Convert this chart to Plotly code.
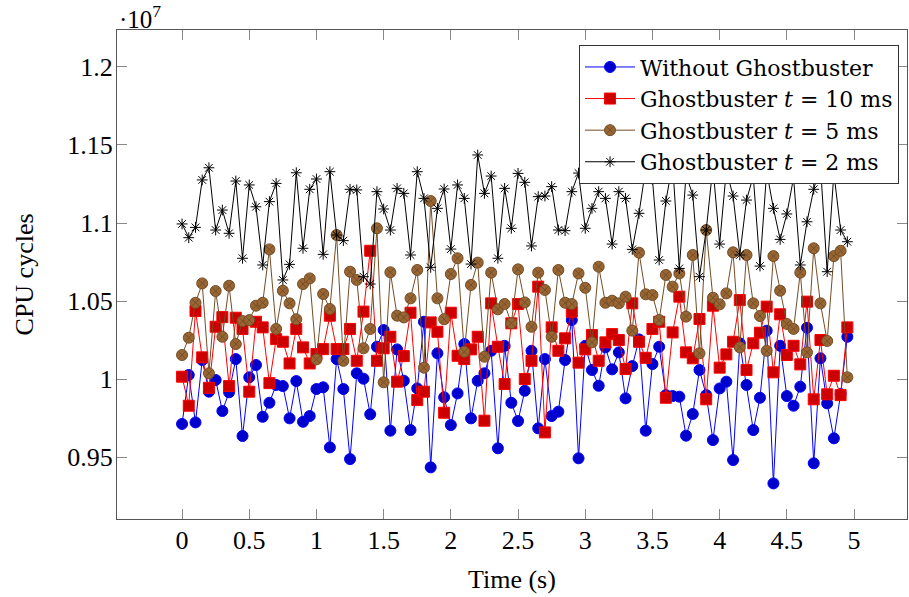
import plotly.graph_objects as go

# time axis (s), one sample every 0.05 s
time_s = [round(i * 0.05, 2) for i in range(100)]

# CPU cycles, in units of 10^7
without_gb = [
    0.9712, 1.0026, 0.9722, 1.0122, 0.9919, 0.9994, 0.9795, 0.9915, 1.0128, 0.9635,
    1.0011, 1.0090, 0.9758, 0.9848, 0.9962, 0.9955, 0.9748, 0.9987, 0.9726, 0.9763,
    0.9936, 0.9947, 0.9562, 1.0128, 0.9936, 0.9487, 1.0037, 1.0002, 0.9774, 1.0207,
    1.0314, 0.9669, 1.0190, 0.9989, 0.9673, 0.9940, 1.0367, 0.9434, 1.0165, 0.9883,
    0.9705, 0.9908, 1.0224, 0.9748, 0.9989, 1.0037, 1.0181, 0.9556, 1.0213, 0.9848,
    0.9731, 0.9925, 1.0181, 0.9684, 1.0128, 0.9763, 0.9791, 1.0122, 1.0378, 0.9492,
    1.0213, 1.0058, 0.9957, 1.0203, 1.0062, 1.0171, 0.9876, 1.0083, 1.0254, 0.9669,
    1.0096, 1.0207, 0.9897, 0.9891, 0.9887, 0.9637, 0.9776, 1.0058, 0.9897, 0.9609,
    0.9940, 0.9983, 0.9481, 1.0229, 0.9962, 0.9673, 0.9880, 1.0310, 0.9331, 1.0213,
    0.9891, 0.9829, 0.9951, 1.0329, 0.9460, 1.0133, 0.9844, 0.9620, 0.9904, 1.0271,
]

gb_10ms = [
    1.0015, 0.9829, 1.0436, 1.0139, 0.9944, 1.0335, 1.0397, 0.9955, 1.0393, 1.0321,
    0.9919, 1.0367, 1.0331, 0.9974, 1.0256, 1.0239, 1.0100, 1.0321, 1.0203, 1.0100,
    1.0160, 1.0192, 1.0406, 1.0192, 1.0192, 1.0321, 1.0117, 1.0432, 1.0822, 1.0117,
    1.0197, 1.0271, 0.9983, 1.0147, 1.0425, 0.9865, 0.9919, 1.0363, 1.0303, 0.9784,
    1.0425, 1.0149, 1.0128, 1.0190, 1.0271, 0.9733, 1.0485, 1.0207, 0.9968, 1.0357,
    1.0481, 1.0000, 1.0117, 1.0592, 0.9658, 1.0331, 1.0181, 1.0261, 1.0432, 1.0105,
    1.0190, 1.0282, 1.0117, 1.0235, 1.0288, 1.0250, 1.0064, 1.0485, 1.0239, 1.0136,
    1.0321, 1.0367, 0.9880, 1.0299, 1.0528, 1.0171, 1.0133, 1.0385, 0.9870, 1.0470,
    1.0073, 1.0158, 1.0239, 1.0506, 1.0058, 1.0229, 1.0297, 1.0464, 1.0043, 1.0415,
    1.0154, 1.0213, 1.0094, 1.0496, 0.9870, 1.0250, 0.9902, 1.0021, 0.9897, 1.0331,
]

gb_5ms = [
    1.0154, 1.0265, 1.0489, 1.0613, 1.0037, 1.0564, 1.0271, 1.0598, 1.0224, 1.0372,
    1.0378, 1.0470, 1.0489, 1.0831, 1.0321, 1.0566, 1.0485, 1.0383, 1.0609, 1.0645,
    1.0126, 1.0545, 1.0449, 1.0923, 1.0117, 1.0688, 1.0635, 1.0197, 1.0321, 1.0966,
    0.9979, 1.0684, 1.0406, 1.0395, 1.0517, 1.0699, 1.0073, 1.1141, 1.0517, 1.0383,
    1.0673, 1.0774, 1.0175, 1.0603, 1.0746, 1.0143, 1.0682, 1.0447, 1.0481, 1.0357,
    1.0703, 1.0491, 1.0335, 1.0682, 1.0571, 1.0271, 1.0699, 1.0489, 1.0481, 1.0677,
    1.0585, 1.0235, 1.0720, 1.0489, 1.0502, 1.0485, 1.0528, 1.0310, 1.0810, 1.0543,
    1.0538, 1.0378, 1.0667, 1.0592, 1.0677, 1.0400, 1.0795, 1.0165, 1.0955, 1.0521,
    1.0479, 1.0549, 1.0812, 1.0203, 1.0795, 1.0485, 1.0404, 1.0181, 1.0788, 1.0566,
    1.0353, 1.0321, 1.0682, 1.0171, 1.0838, 1.0485, 1.0244, 1.0788, 1.0822, 1.0011,
]

gb_2ms = [
    1.0994, 1.0906, 1.0972, 1.1276, 1.1354, 1.0955, 1.1083, 1.0934, 1.1269, 1.0774,
    1.1244, 1.1104, 1.0731, 1.1137, 1.1254, 1.0635, 1.0735, 1.1322, 1.0838, 1.1216,
    1.1282, 1.0799, 1.1329, 1.0923, 1.0887, 1.1216, 1.1212, 1.0656, 1.0609, 1.1201,
    1.1090, 1.0955, 1.1222, 1.1190, 1.0795, 1.1329, 1.1158, 1.0716, 1.1094, 1.1218,
    1.0833, 1.1244, 1.1158, 1.0737, 1.1436, 1.1190, 1.1301, 1.0774, 1.1222, 1.0966,
    1.1318, 1.1261, 1.0853, 1.1169, 1.1173, 1.1233, 1.0955, 1.0951, 1.1201, 1.1320,
    1.0966, 1.1094, 1.1201, 1.1158, 1.0865, 1.1201, 1.1158, 1.0831, 1.1062, 1.1350,
    1.1280, 1.0763, 1.1141, 1.1380, 1.0709, 1.1310, 1.1179, 1.0656, 1.0955, 1.1360,
    1.0865, 1.1340, 1.1173, 1.0795, 1.1147, 1.1300, 1.0724, 1.1330, 1.1094, 1.0895,
    1.1058, 1.1290, 1.0731, 1.1008, 1.1216, 1.1370, 1.0688, 1.1320, 1.0955, 1.0880,
]

series_names = [
    "Without Ghostbuster",
    "Ghostbuster <i>t</i> = 10 ms",
    "Ghostbuster <i>t</i> = 5 ms",
    "Ghostbuster <i>t</i> = 2 ms",
]

x_tick_vals = [0, 0.5, 1, 1.5, 2, 2.5, 3, 3.5, 4, 4.5, 5]
x_tick_text = ["0", "0.5", "1", "1.5", "2", "2.5", "3", "3.5", "4", "4.5", "5"]
y_tick_vals = [0.95, 1.0, 1.05, 1.1, 1.15, 1.2]
y_tick_text = ["0.95", "1", "1.05", "1.1", "1.15", "1.2"]

FONT = "Liberation Serif"
LEGEND_FONT = "DejaVu Serif"

fig = go.Figure()

fig.add_trace(go.Scatter(
    x=time_s, y=without_gb, name=series_names[0], mode="lines+markers",
    line=dict(color="#0000FF", width=1),
    marker=dict(symbol="circle", size=11, color="#0000CC", line=dict(color="#0000FF", width=1)),
))
fig.add_trace(go.Scatter(
    x=time_s, y=gb_10ms, name=series_names[1], mode="lines+markers",
    line=dict(color="#FF0000", width=1),
    marker=dict(symbol="square", size=11, color="#CC0000", line=dict(color="#FF0000", width=1)),
))
fig.add_trace(go.Scatter(
    x=time_s, y=gb_5ms, name=series_names[2], mode="lines+markers",
    line=dict(color="#734D26", width=1),
    marker=dict(symbol="circle-x", size=11, color="#996633", line=dict(color="#734D26", width=1)),
))
fig.add_trace(go.Scatter(
    x=time_s, y=gb_2ms, name=series_names[3], mode="lines+markers",
    line=dict(color="#000000", width=1),
    marker=dict(symbol="asterisk-open", size=9, color="#000000", line=dict(color="#000000", width=1)),
))

axis_common = dict(
    showline=True, linecolor="#555555", linewidth=1.3, mirror="allticks",
    ticks="inside", ticklen=10, tickcolor="#888888", tickwidth=1,
    showgrid=False, zeroline=False, automargin=False,
    tickfont=dict(family=FONT, size=26, color="black"),
    ticklabelstandoff=-2,
)

fig.update_xaxes(
    range=[-0.484, 5.394], tickvals=x_tick_vals, ticktext=x_tick_text,
    **axis_common,
)
fig.update_yaxes(
    range=[0.9103, 1.2237], tickvals=y_tick_vals, ticktext=y_tick_text,
    **axis_common,
)

title_font = dict(family=FONT, size=26, color="black")
fig.add_annotation(
    text="Time (s)", xref="paper", yref="paper", x=0.5, y=-0.1247,
    xanchor="center", yanchor="middle", showarrow=False, font=title_font,
)
fig.add_annotation(
    text="CPU cycles", xref="paper", yref="paper", x=-0.1165, y=0.5,
    xanchor="center", yanchor="middle", showarrow=False, textangle=-90, font=title_font,
)
fig.add_annotation(
    text="·10<sup>7</sup>", xref="paper", yref="paper", x=0, y=1.0266,
    xanchor="left", yanchor="middle", showarrow=False,
    font=dict(family=FONT, size=25, color="black"),
)

fig.update_layout(
    width=909, height=597,
    margin=dict(l=117, r=2, t=30, b=78),
    plot_bgcolor="white", paper_bgcolor="white",
    font=dict(family=FONT, size=26, color="black"),
    legend=dict(
        x=0.9899, y=0.969, xanchor="right", yanchor="top",
        bgcolor="white", bordercolor="#333333", borderwidth=1,
        font=dict(family=LEGEND_FONT, size=22, color="black"),
        itemwidth=50, tracegroupgap=0,
    ),
)

fig.write_html(
    "out.html",
    config={"displayModeBar": False},
    post_script="document.body.style.margin='0';document.body.style.padding='0';",
)
